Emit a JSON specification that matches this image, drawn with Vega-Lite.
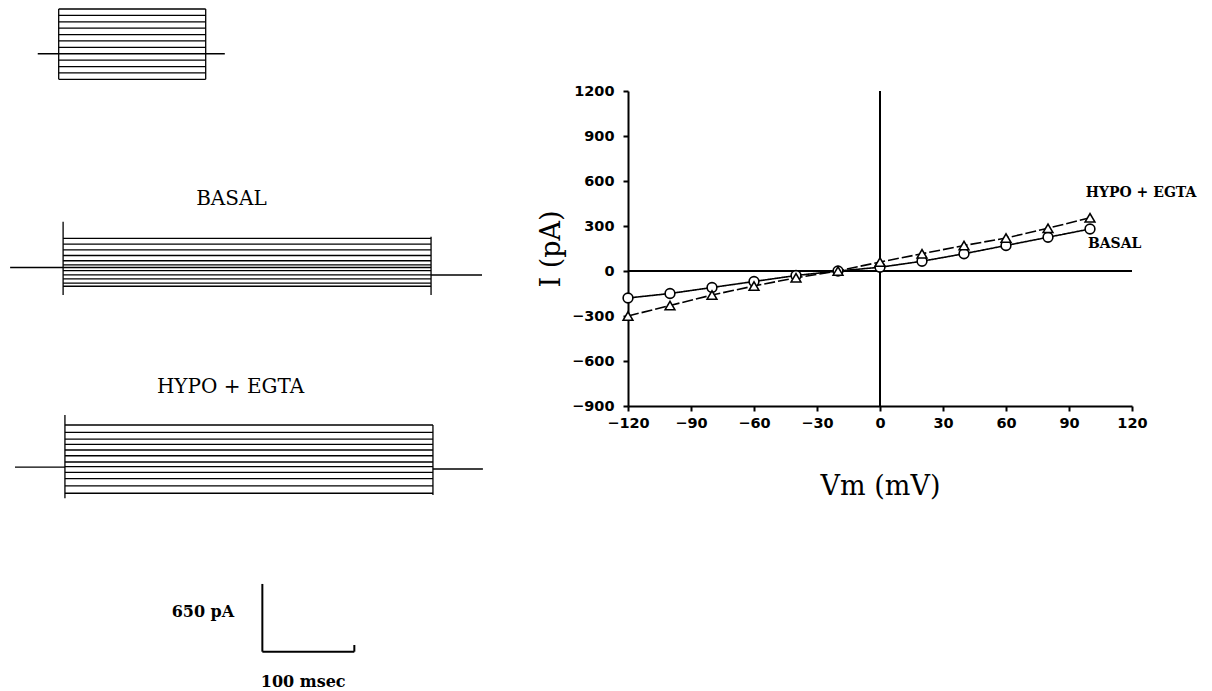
{
  "$schema": "https://vega.github.io/schema/vega-lite/v6.json",
  "width": 504,
  "height": 315,
  "autosize": {"type": "none"},
  "padding": {"left": 628, "top": 91, "right": 80, "bottom": 285},
  "background": "white",
  "config": {
    "view": {"stroke": null},
    "axis": {
      "grid": false,
      "domainColor": "black",
      "domainWidth": 2,
      "tickColor": "black",
      "tickWidth": 2,
      "tickSize": 5,
      "labelFont": "DejaVu Sans",
      "labelFontWeight": "bold",
      "labelFontSize": 14.5,
      "labelColor": "black",
      "titleFont": "DejaVu Serif",
      "titleFontWeight": "normal",
      "titleFontSize": 27,
      "titleColor": "black"
    }
  },
  "datasets": {
    "iv": [
      {"cond": "BASAL", "vm": -120, "i": -180},
      {"cond": "BASAL", "vm": -100, "i": -150},
      {"cond": "BASAL", "vm": -80, "i": -110},
      {"cond": "BASAL", "vm": -60, "i": -70},
      {"cond": "BASAL", "vm": -40, "i": -30},
      {"cond": "BASAL", "vm": -20, "i": 0},
      {"cond": "BASAL", "vm": 0, "i": 25},
      {"cond": "BASAL", "vm": 20, "i": 65},
      {"cond": "BASAL", "vm": 40, "i": 115},
      {"cond": "BASAL", "vm": 60, "i": 170},
      {"cond": "BASAL", "vm": 80, "i": 225},
      {"cond": "BASAL", "vm": 100, "i": 280},
      {"cond": "HYPO + EGTA", "vm": -120, "i": -300},
      {"cond": "HYPO + EGTA", "vm": -100, "i": -230},
      {"cond": "HYPO + EGTA", "vm": -80, "i": -160},
      {"cond": "HYPO + EGTA", "vm": -60, "i": -100},
      {"cond": "HYPO + EGTA", "vm": -40, "i": -45},
      {"cond": "HYPO + EGTA", "vm": -20, "i": 0},
      {"cond": "HYPO + EGTA", "vm": 0, "i": 60},
      {"cond": "HYPO + EGTA", "vm": 20, "i": 115},
      {"cond": "HYPO + EGTA", "vm": 40, "i": 170},
      {"cond": "HYPO + EGTA", "vm": 60, "i": 220},
      {"cond": "HYPO + EGTA", "vm": 80, "i": 285},
      {"cond": "HYPO + EGTA", "vm": 100, "i": 355}
    ],
    "zeroLines": [
      {"x0": 0, "x1": 0, "y0": -900, "y1": 1200},
      {"x0": -120, "x1": 120, "y0": 0, "y1": 0}
    ],
    "ivLabels": [
      {"label": "HYPO + EGTA", "vm": 98, "i": 520},
      {"label": "BASAL", "vm": 99, "i": 180}
    ],
    "protocol": [
      {"t0": 0, "t1": 400, "v0": 100, "v1": 100},
      {"t0": 0, "t1": 400, "v0": 80, "v1": 80},
      {"t0": 0, "t1": 400, "v0": 60, "v1": 60},
      {"t0": 0, "t1": 400, "v0": 40, "v1": 40},
      {"t0": 0, "t1": 400, "v0": 20, "v1": 20},
      {"t0": 0, "t1": 400, "v0": 0, "v1": 0},
      {"t0": 0, "t1": 400, "v0": -20, "v1": -20},
      {"t0": -57, "t1": 452, "v0": -40, "v1": -40},
      {"t0": 0, "t1": 400, "v0": -60, "v1": -60},
      {"t0": 0, "t1": 400, "v0": -80, "v1": -80},
      {"t0": 0, "t1": 400, "v0": -100, "v1": -100},
      {"t0": 0, "t1": 400, "v0": -120, "v1": -120},
      {"t0": 0, "t1": 0, "v0": -120, "v1": 100},
      {"t0": 400, "t1": 400, "v0": -120, "v1": 100}
    ],
    "traces": [
      {"cond": "BASAL", "t0": 0, "t1": 400, "i0": 280, "i1": 280},
      {"cond": "BASAL", "t0": 0, "t1": 400, "i0": 225, "i1": 225},
      {"cond": "BASAL", "t0": 0, "t1": 400, "i0": 170, "i1": 170},
      {"cond": "BASAL", "t0": 0, "t1": 400, "i0": 115, "i1": 115},
      {"cond": "BASAL", "t0": 0, "t1": 400, "i0": 65, "i1": 65},
      {"cond": "BASAL", "t0": 0, "t1": 400, "i0": 25, "i1": 25},
      {"cond": "BASAL", "t0": 0, "t1": 400, "i0": 0, "i1": 0},
      {"cond": "BASAL", "t0": 0, "t1": 400, "i0": -30, "i1": -30},
      {"cond": "BASAL", "t0": 0, "t1": 400, "i0": -70, "i1": -70},
      {"cond": "BASAL", "t0": 0, "t1": 400, "i0": -110, "i1": -110},
      {"cond": "BASAL", "t0": 0, "t1": 400, "i0": -150, "i1": -150},
      {"cond": "BASAL", "t0": 0, "t1": 400, "i0": -180, "i1": -180},
      {"cond": "BASAL", "t0": -57.6, "t1": 0, "i0": 0, "i1": 0},
      {"cond": "BASAL", "t0": 400, "t1": 455.4, "i0": -72, "i1": -72},
      {"cond": "BASAL", "t0": 0, "t1": 0, "i0": -264, "i1": 440},
      {"cond": "BASAL", "t0": 400, "t1": 400, "i0": -264, "i1": 296},
      {"cond": "HYPO + EGTA", "t0": 0, "t1": 400, "i0": 355, "i1": 355},
      {"cond": "HYPO + EGTA", "t0": 0, "t1": 400, "i0": 285, "i1": 285},
      {"cond": "HYPO + EGTA", "t0": 0, "t1": 400, "i0": 220, "i1": 220},
      {"cond": "HYPO + EGTA", "t0": 0, "t1": 400, "i0": 170, "i1": 170},
      {"cond": "HYPO + EGTA", "t0": 0, "t1": 400, "i0": 115, "i1": 115},
      {"cond": "HYPO + EGTA", "t0": 0, "t1": 400, "i0": 60, "i1": 60},
      {"cond": "HYPO + EGTA", "t0": 0, "t1": 400, "i0": 0, "i1": 0},
      {"cond": "HYPO + EGTA", "t0": 0, "t1": 400, "i0": -45, "i1": -45},
      {"cond": "HYPO + EGTA", "t0": 0, "t1": 400, "i0": -100, "i1": -100},
      {"cond": "HYPO + EGTA", "t0": 0, "t1": 400, "i0": -160, "i1": -160},
      {"cond": "HYPO + EGTA", "t0": 0, "t1": 400, "i0": -230, "i1": -230},
      {"cond": "HYPO + EGTA", "t0": 0, "t1": 400, "i0": -300, "i1": -300},
      {"cond": "HYPO + EGTA", "t0": -54.3, "t1": 0, "i0": -50, "i1": -50},
      {"cond": "HYPO + EGTA", "t0": 400, "t1": 454.3, "i0": -67, "i1": -67},
      {"cond": "HYPO + EGTA", "t0": 0, "t1": 0, "i0": -348, "i1": 451},
      {"cond": "HYPO + EGTA", "t0": 400, "t1": 400, "i0": -317, "i1": 355}
    ],
    "scaleBar": [
      {"t0": 216.6, "t1": 216.6, "i0": -3687, "i1": -3037},
      {"t0": 216.6, "t1": 316.6, "i0": -3687, "i1": -3687},
      {"t0": 316.6, "t1": 316.6, "i0": -3687, "i1": -3623}
    ],
    "scaleText": [
      {"label": "650 pA", "t": 152, "i": -3303},
      {"label": "100 msec", "t": 261, "i": -3975}
    ],
    "panelTitles": [
      {"cond": "BASAL", "label": "BASAL", "t": 183, "i": 657},
      {"cond": "HYPO + EGTA", "label": "HYPO + EGTA", "t": 180, "i": 723}
    ]
  },
  "resolve": {
    "scale": {"x": "independent", "y": "independent", "shape": "independent", "strokeDash": "independent"},
    "axis": {"x": "independent", "y": "independent"}
  },
  "layer": [
    {
      "data": {"name": "zeroLines"},
      "mark": {"type": "rule", "color": "black", "strokeWidth": 2},
      "encoding": {
        "x": {
          "field": "x0", "type": "quantitative",
          "scale": {"domain": [-120, 120], "nice": false, "zero": false},
          "axis": {
            "title": "Vm (mV)",
            "values": [-120, -90, -60, -30, 0, 30, 60, 90, 120],
            "format": "d",
            "labelFlush": false,
            "labelOverlap": false,
            "labelPadding": 5,
            "titlePadding": 44
          }
        },
        "x2": {"field": "x1"},
        "y": {
          "field": "y0", "type": "quantitative",
          "scale": {"domain": [-900, 1200], "nice": false, "zero": false},
          "axis": {
            "title": "I (pA)",
            "values": [-900, -600, -300, 0, 300, 600, 900, 1200],
            "format": "d",
            "labelOverlap": false,
            "labelPadding": 9,
            "titlePadding": 6
          }
        },
        "y2": {"field": "y1"}
      }
    },
    {
      "data": {"name": "iv"},
      "mark": {"type": "line", "color": "black", "strokeWidth": 1.6},
      "encoding": {
        "x": {"field": "vm", "type": "quantitative", "scale": {"domain": [-120, 120], "nice": false, "zero": false}, "axis": null},
        "y": {"field": "i", "type": "quantitative", "scale": {"domain": [-900, 1200], "nice": false, "zero": false}, "axis": null},
        "strokeDash": {"field": "cond", "type": "nominal", "scale": {"domain": ["BASAL", "HYPO + EGTA"], "range": [[1, 0], [11, 3]]}, "legend": null}
      }
    },
    {
      "data": {"name": "iv"},
      "mark": {"type": "point", "filled": false, "fill": "white", "fillOpacity": 1, "stroke": "black", "strokeWidth": 1.6, "size": 95, "opacity": 1},
      "encoding": {
        "x": {"field": "vm", "type": "quantitative", "scale": {"domain": [-120, 120], "nice": false, "zero": false}, "axis": null},
        "y": {"field": "i", "type": "quantitative", "scale": {"domain": [-900, 1200], "nice": false, "zero": false}, "axis": null},
        "shape": {"field": "cond", "type": "nominal", "scale": {"domain": ["BASAL", "HYPO + EGTA"], "range": ["circle", "triangle-up"]}, "legend": null}
      }
    },
    {
      "data": {"name": "ivLabels"},
      "mark": {"type": "text", "align": "left", "baseline": "middle", "font": "DejaVu Serif", "fontWeight": "bold", "fontSize": 14, "color": "black"},
      "encoding": {
        "x": {"field": "vm", "type": "quantitative", "scale": {"domain": [-120, 120], "nice": false, "zero": false}, "axis": null},
        "y": {"field": "i", "type": "quantitative", "scale": {"domain": [-900, 1200], "nice": false, "zero": false}, "axis": null},
        "text": {"field": "label"}
      }
    },
    {
      "data": {"name": "protocol"},
      "mark": {"type": "rule", "color": "black", "strokeWidth": 1.3},
      "encoding": {
        "x": {"field": "t0", "type": "quantitative", "scale": {"domain": [1549.1, 2920.5], "nice": false, "zero": false}, "axis": null},
        "x2": {"field": "t1"},
        "y": {"field": "v0", "type": "quantitative", "scale": {"domain": [-1142.6, -156.6], "nice": false, "zero": false}, "axis": null},
        "y2": {"field": "v1"}
      }
    },
    {
      "data": {"name": "traces"},
      "transform": [{"filter": "datum.cond === 'BASAL'"}],
      "mark": {"type": "rule", "color": "black", "strokeWidth": 1.3},
      "encoding": {
        "x": {"field": "t0", "type": "quantitative", "scale": {"domain": [614.1, 1162.0], "nice": false, "zero": false}, "axis": null},
        "x2": {"field": "t1"},
        "y": {"field": "i0", "type": "quantitative", "scale": {"domain": [-1329.2, 1693.9], "nice": false, "zero": false}, "axis": null},
        "y2": {"field": "i1"}
      }
    },
    {
      "data": {"name": "traces"},
      "transform": [{"filter": "datum.cond === 'HYPO + EGTA'"}],
      "mark": {"type": "rule", "color": "black", "strokeWidth": 1.3},
      "encoding": {
        "x": {"field": "t0", "type": "quantitative", "scale": {"domain": [612.0, 1159.8], "nice": false, "zero": false}, "axis": null},
        "x2": {"field": "t1"},
        "y": {"field": "i0", "type": "quantitative", "scale": {"domain": [537.4, 3560.5], "nice": false, "zero": false}, "axis": null},
        "y2": {"field": "i1"}
      }
    },
    {
      "data": {"name": "scaleBar"},
      "mark": {"type": "rule", "color": "black", "strokeWidth": 2},
      "encoding": {
        "x": {"field": "t0", "type": "quantitative", "scale": {"domain": [614.1, 1162.0], "nice": false, "zero": false}, "axis": null},
        "x2": {"field": "t1"},
        "y": {"field": "i0", "type": "quantitative", "scale": {"domain": [-1329.2, 1693.9], "nice": false, "zero": false}, "axis": null},
        "y2": {"field": "i1"}
      }
    },
    {
      "data": {"name": "scaleText"},
      "mark": {"type": "text", "align": "center", "baseline": "middle", "font": "DejaVu Serif", "fontWeight": "bold", "fontSize": 16, "color": "black"},
      "encoding": {
        "x": {"field": "t", "type": "quantitative", "scale": {"domain": [614.1, 1162.0], "nice": false, "zero": false}, "axis": null},
        "y": {"field": "i", "type": "quantitative", "scale": {"domain": [-1329.2, 1693.9], "nice": false, "zero": false}, "axis": null},
        "text": {"field": "label"}
      }
    },
    {
      "data": {"name": "panelTitles"},
      "transform": [{"filter": "datum.cond === 'BASAL'"}],
      "mark": {"type": "text", "align": "center", "baseline": "middle", "font": "DejaVu Serif", "fontSize": 20, "color": "black"},
      "encoding": {
        "x": {"field": "t", "type": "quantitative", "scale": {"domain": [614.1, 1162.0], "nice": false, "zero": false}, "axis": null},
        "y": {"field": "i", "type": "quantitative", "scale": {"domain": [-1329.2, 1693.9], "nice": false, "zero": false}, "axis": null},
        "text": {"field": "label"}
      }
    },
    {
      "data": {"name": "panelTitles"},
      "transform": [{"filter": "datum.cond === 'HYPO + EGTA'"}],
      "mark": {"type": "text", "align": "center", "baseline": "middle", "font": "DejaVu Serif", "fontSize": 20, "color": "black"},
      "encoding": {
        "x": {"field": "t", "type": "quantitative", "scale": {"domain": [612.0, 1159.8], "nice": false, "zero": false}, "axis": null},
        "y": {"field": "i", "type": "quantitative", "scale": {"domain": [537.4, 3560.5], "nice": false, "zero": false}, "axis": null},
        "text": {"field": "label"}
      }
    }
  ]
}
